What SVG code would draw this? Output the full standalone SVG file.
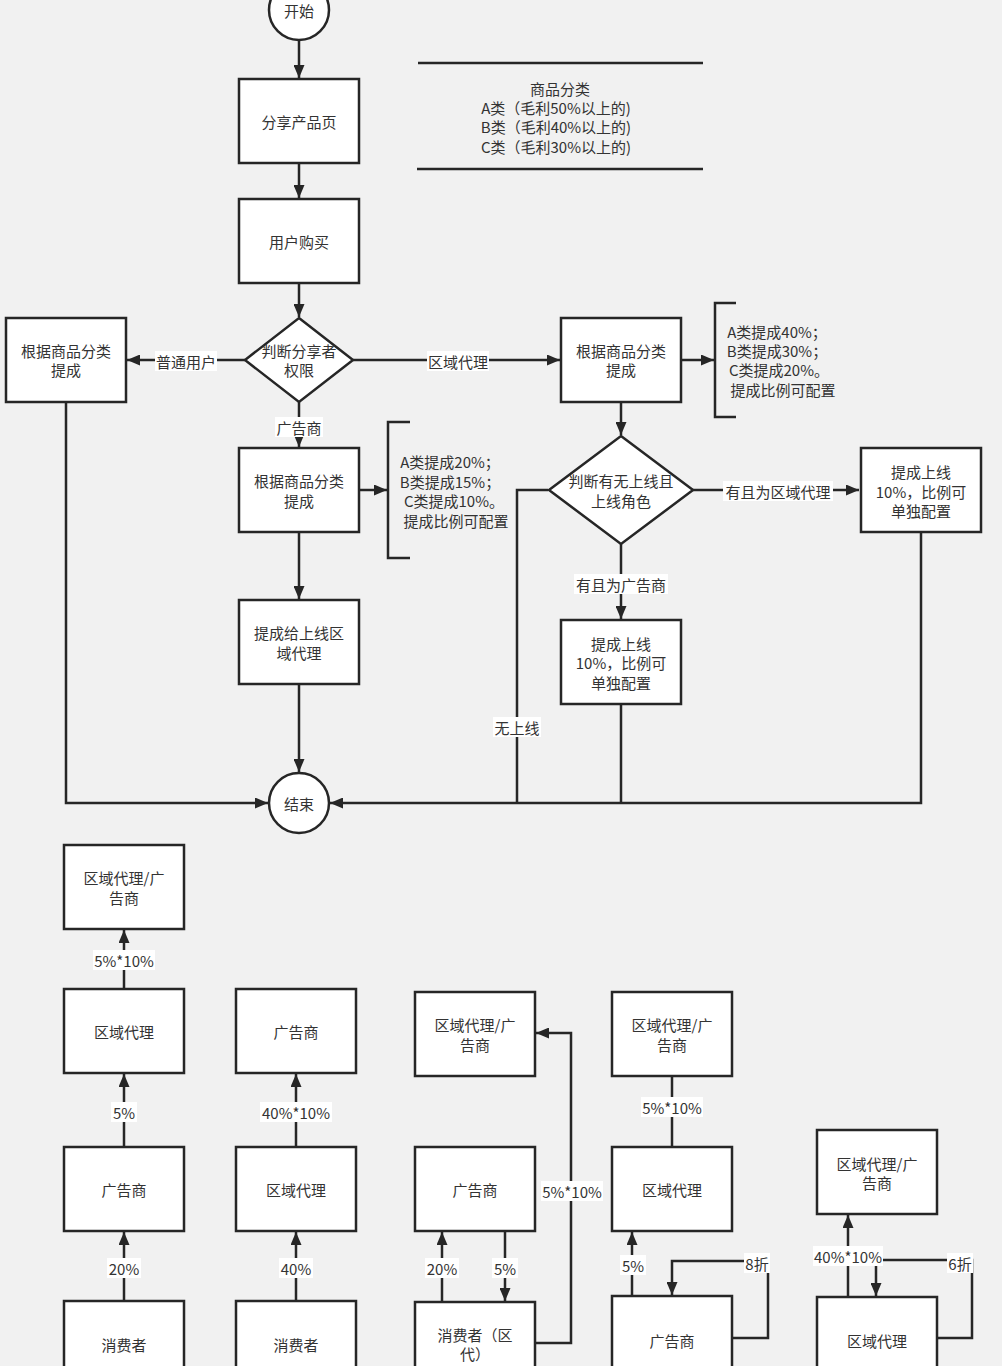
<svg xmlns="http://www.w3.org/2000/svg" width="1002" height="1366" viewBox="0 0 1002 1366">
<style>
.bg{fill:#f1f1f1}
.n{fill:#ffffff;stroke:#262626;stroke-width:2.5}
.t{font-family:"Noto Sans CJK SC","Noto Sans",sans-serif;font-size:15px;fill:#333333;text-anchor:middle;dominant-baseline:central}
.c{fill:none;stroke:#262626;stroke-width:2.5}
.a{marker-end:url(#ah)}
.lb{fill:#ffffff}
</style>
<defs>
<marker id="ah" markerUnits="userSpaceOnUse" markerWidth="14" markerHeight="11" refX="13" refY="5.5" orient="auto">
<path d="M0,0 L13,5.5 L0,11 z" fill="#262626"/>
</marker>
</defs>
<rect class="bg" x="0" y="0" width="1002" height="1366"/>

<g id="connectors">
<line class="c a" x1="299" y1="41" x2="299" y2="78"/>
<line class="c a" x1="299" y1="163" x2="299" y2="198"/>
<line class="c a" x1="299" y1="283" x2="299" y2="317"/>
<line class="c a" x1="245" y1="360" x2="127" y2="360"/>
<line class="c a" x1="353" y1="360" x2="560" y2="360"/>
<line class="c a" x1="299" y1="402" x2="299" y2="447"/>
<line class="c a" x1="359" y1="490" x2="387" y2="490"/>
<line class="c a" x1="299" y1="532" x2="299" y2="599"/>
<line class="c a" x1="299" y1="684" x2="299" y2="772"/>
<polyline class="c a" points="66,402 66,803 268,803"/>
<line class="c a" x1="681" y1="360" x2="714" y2="360"/>
<line class="c a" x1="621" y1="402" x2="621" y2="435"/>
<line class="c a" x1="692" y1="490" x2="859" y2="490"/>
<line class="c a" x1="621" y1="544" x2="621" y2="619"/>
<polyline class="c" points="548,490 517,490 517,803"/>
<line class="c" x1="621" y1="704" x2="621" y2="803"/>
<polyline class="c a" points="921,532 921,803 330,803"/>

<line class="c a" x1="124" y1="989" x2="124" y2="930"/>
<line class="c a" x1="124" y1="1147" x2="124" y2="1074"/>
<line class="c a" x1="124" y1="1301" x2="124" y2="1232"/>
<line class="c a" x1="296" y1="1147" x2="296" y2="1074"/>
<line class="c a" x1="296" y1="1301" x2="296" y2="1232"/>
<line class="c a" x1="442" y1="1302" x2="442" y2="1232"/>
<line class="c a" x1="505" y1="1231" x2="505" y2="1301"/>
<polyline class="c a" points="535,1343 571,1343 571,1033 536,1033"/>
<line class="c" x1="672" y1="1076" x2="672" y2="1147"/>
<line class="c a" x1="632" y1="1296" x2="632" y2="1232"/>
<polyline class="c a" points="733,1338 768,1338 768,1261 672,1261 672,1295"/>
<line class="c a" x1="848" y1="1297" x2="848" y2="1215"/>
<polyline class="c a" points="937,1338 972,1338 972,1260 876,1260 876,1296"/>

<rect class="lb" x="155" y="351" width="62" height="20"/>
<text class="t" x="186" y="361">普通用户</text>
<rect class="lb" x="427" y="351" width="62" height="20"/>
<text class="t" x="458" y="361">区域代理</text>
<rect class="lb" x="275" y="417" width="48" height="20"/>
<text class="t" x="299" y="427">广告商</text>
<rect class="lb" x="723" y="481" width="110" height="20"/>
<text class="t" x="778" y="491">有且为区域代理</text>
<rect class="lb" x="574" y="574" width="94" height="20"/>
<text class="t" x="621" y="584">有且为广告商</text>
<rect class="lb" x="493" y="717" width="48" height="20"/>
<text class="t" x="517" y="727">无上线</text>

<rect class="lb" x="93" y="950" width="62" height="20"/>
<text class="t" x="124" y="960">5%*10%</text>
<rect class="lb" x="111" y="1102" width="26" height="20"/>
<text class="t" x="124" y="1112">5%</text>
<rect class="lb" x="107" y="1258" width="34" height="20"/>
<text class="t" x="124" y="1268">20%</text>
<rect class="lb" x="260" y="1102" width="72" height="20"/>
<text class="t" x="296" y="1112">40%*10%</text>
<rect class="lb" x="279" y="1258" width="34" height="20"/>
<text class="t" x="296" y="1268">40%</text>
<rect class="lb" x="425" y="1258" width="34" height="20"/>
<text class="t" x="442" y="1268">20%</text>
<rect class="lb" x="492" y="1258" width="26" height="20"/>
<text class="t" x="505" y="1268">5%</text>
<rect class="lb" x="541" y="1181" width="62" height="20"/>
<text class="t" x="572" y="1191">5%*10%</text>
<rect class="lb" x="641" y="1097" width="62" height="20"/>
<text class="t" x="672" y="1107">5%*10%</text>
<rect class="lb" x="620" y="1255" width="26" height="20"/>
<text class="t" x="633" y="1265">5%</text>
<rect class="lb" x="744" y="1253" width="26" height="20"/>
<text class="t" x="757" y="1263">8折</text>
<rect class="lb" x="813" y="1246" width="70" height="20"/>
<text class="t" x="848" y="1256">40%*10%</text>
<rect class="lb" x="947" y="1253" width="26" height="20"/>
<text class="t" x="960" y="1263">6折</text>
</g>

<g id="start"><circle class="n" cx="299" cy="10" r="30"/><text class="t" x="299" y="10">开始</text></g>
<g id="share"><rect class="n" x="239" y="79" width="120" height="84"/><text class="t" x="299" y="121">分享产品页</text></g>
<g id="buy"><rect class="n" x="239" y="199" width="120" height="84"/><text class="t" x="299" y="241">用户购买</text></g>
<g id="legend">
<line class="c" x1="418" y1="63" x2="703" y2="63"/>
<line class="c" x1="417" y1="169" x2="703" y2="169"/>
<text class="t" x="560" y="88">商品分类</text>
<text class="t" x="556" y="107">A类（毛利50%以上的)</text>
<text class="t" x="556" y="126">B类（毛利40%以上的)</text>
<text class="t" x="556" y="146">C类（毛利30%以上的)</text>
</g>
<g id="judge1"><polygon class="n" points="299,318 353,360 299,402 245,360"/><text class="t" x="299" y="350">判断分享者</text><text class="t" x="299" y="369">权限</text></g>
<g id="normal"><rect class="n" x="6" y="318" width="120" height="84"/><text class="t" x="66" y="350">根据商品分类</text><text class="t" x="66" y="369">提成</text></g>
<g id="adv"><rect class="n" x="239" y="448" width="120" height="84"/><text class="t" x="299" y="480">根据商品分类</text><text class="t" x="299" y="500">提成</text></g>
<g id="advnote">
<polyline class="c" points="410,422 388,422 388,558 410,558"/>
<text class="t" x="450" y="461">A类提成20%；</text>
<text class="t" x="450" y="481">B类提成15%；</text>
<text class="t" x="454" y="500">C类提成10%。</text>
<text class="t" x="456" y="520">提成比例可配置</text>
</g>
<g id="advup"><rect class="n" x="239" y="600" width="120" height="84"/><text class="t" x="299" y="632">提成给上线区</text><text class="t" x="299" y="652">域代理</text></g>
<g id="end"><circle class="n" cx="299" cy="803" r="30"/><text class="t" x="299" y="803">结束</text></g>
<g id="agent"><rect class="n" x="561" y="318" width="120" height="84"/><text class="t" x="621" y="350">根据商品分类</text><text class="t" x="621" y="369">提成</text></g>
<g id="agentnote">
<polyline class="c" points="736,303 715,303 715,417 736,417"/>
<text class="t" x="777" y="331">A类提成40%；</text>
<text class="t" x="777" y="350">B类提成30%；</text>
<text class="t" x="779" y="369">C类提成20%。</text>
<text class="t" x="783" y="389">提成比例可配置</text>
</g>
<g id="judge2"><polygon class="n" points="621,436 693,490 621,544 549,490"/><text class="t" x="621" y="480">判断有无上线且</text><text class="t" x="621" y="500">上线角色</text></g>
<g id="upagent"><rect class="n" x="861" y="448" width="120" height="84"/><text class="t" x="921" y="471">提成上线</text><text class="t" x="921" y="491">10%，比例可</text><text class="t" x="921" y="510">单独配置</text></g>
<g id="upadv"><rect class="n" x="561" y="620" width="120" height="84"/><text class="t" x="621" y="643">提成上线</text><text class="t" x="621" y="662">10%，比例可</text><text class="t" x="621" y="682">单独配置</text></g>

<g id="c1top"><rect class="n" x="64" y="845" width="120" height="84"/><text class="t" x="124" y="877">区域代理/广</text><text class="t" x="124" y="897">告商</text></g>
<g id="c1agent"><rect class="n" x="64" y="989" width="120" height="84"/><text class="t" x="124" y="1031">区域代理</text></g>
<g id="c1adv"><rect class="n" x="64" y="1147" width="120" height="84"/><text class="t" x="124" y="1189">广告商</text></g>
<g id="c1cons"><rect class="n" x="64" y="1301" width="120" height="84"/><text class="t" x="124" y="1344">消费者</text></g>
<g id="c2adv"><rect class="n" x="236" y="989" width="120" height="84"/><text class="t" x="296" y="1031">广告商</text></g>
<g id="c2agent"><rect class="n" x="236" y="1147" width="120" height="84"/><text class="t" x="296" y="1189">区域代理</text></g>
<g id="c2cons"><rect class="n" x="236" y="1301" width="120" height="84"/><text class="t" x="296" y="1344">消费者</text></g>
<g id="c3top"><rect class="n" x="415" y="992" width="120" height="84"/><text class="t" x="475" y="1024">区域代理/广</text><text class="t" x="475" y="1044">告商</text></g>
<g id="c3adv"><rect class="n" x="415" y="1147" width="120" height="84"/><text class="t" x="475" y="1189">广告商</text></g>
<g id="c3cons"><rect class="n" x="415" y="1302" width="120" height="84"/><text class="t" x="475" y="1334">消费者（区</text><text class="t" x="475" y="1353">代）</text></g>
<g id="c4top"><rect class="n" x="612" y="992" width="120" height="84"/><text class="t" x="672" y="1024">区域代理/广</text><text class="t" x="672" y="1044">告商</text></g>
<g id="c4agent"><rect class="n" x="612" y="1147" width="120" height="84"/><text class="t" x="672" y="1189">区域代理</text></g>
<g id="c4adv"><rect class="n" x="612" y="1296" width="120" height="84"/><text class="t" x="672" y="1340">广告商</text></g>
<g id="c5top"><rect class="n" x="817" y="1130" width="120" height="84"/><text class="t" x="877" y="1163">区域代理/广</text><text class="t" x="877" y="1182">告商</text></g>
<g id="c5agent"><rect class="n" x="817" y="1297" width="120" height="84"/><text class="t" x="877" y="1340">区域代理</text></g>
</svg>
